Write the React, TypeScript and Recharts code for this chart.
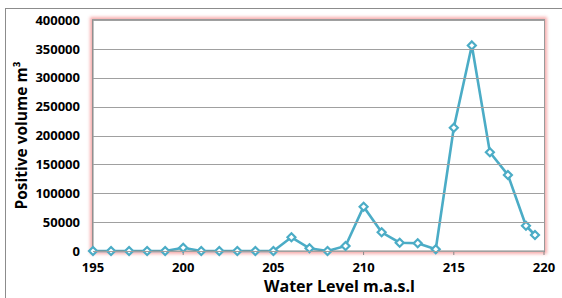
import React from "react";
import { LineChart, Line, XAxis, YAxis } from "recharts";

// water levels (m.a.s.l) and positive volume (m3)
const levels = [
  195, 196, 197, 198, 199, 200, 201, 202, 203, 204, 205, 206, 207, 208, 209,
  210, 211, 212, 213, 214, 215, 216, 217, 218, 219, 219.5,
];
const volumes = [
  0, 0, 0, 0, 0, 5700, 0, 0, 0, 0, 0, 23700, 4700, 0, 8700, 76700, 32400,
  14400, 13300, 3000, 213500, 356000, 171000, 131600, 43800, 27700,
];
const xTicks = [195, 200, 205, 210, 215, 220];
const yTicks = [0, 50000, 100000, 150000, 200000, 250000, 300000, 350000, 400000];

const data = levels.map((level, i) => ({ level, volume: volumes[i] }));

const SERIES = "#4BACC6";
const FONT = "'Open Sans', 'Liberation Sans', sans-serif";

const W = 562;
const H = 298;
const M = { top: 20, right: 18, bottom: 0, left: 0 };
const Y_AXIS_W = 93;
const X_AXIS_H = 47;
const PLOT_W = W - M.left - M.right - Y_AXIS_W;
const PLOT_H = H - M.top - M.bottom - X_AXIS_H;
const Y_GAP = 13;

const Diamond = (props: any) => {
  const { cx, cy } = props;
  if (cx == null || cy == null) return null;
  const r = 4;
  return (
    <path
      d={`M${cx} ${cy - r} L${cx + r} ${cy} L${cx} ${cy + r} L${cx - r} ${cy} Z`}
      fill="#fff"
      stroke={SERIES}
      strokeWidth={2.2}
    />
  );
};

// y tick label plus its horizontal gridline across the plot
const YTick = (props: any) => {
  const { x, y, payload } = props;
  const gy = Math.round(y) - 0.5;
  return (
    <g>
      <rect
        x={x + Y_GAP}
        y={gy}
        width={PLOT_W}
        height={1}
        fill="#A0A0A0"
        stroke="none"
        shapeRendering="crispEdges"
      />
      <text
        x={x}
        y={y}
        dy="0.36em"
        textAnchor="end"
        fontSize={13}
        fontWeight={700}
        fill="#000"
        fontFamily={FONT}
      >
        {payload.value}
      </text>
    </g>
  );
};

export default function App() {
  return (
    <div
      style={{
        position: "absolute",
        left: 0,
        top: 0,
        width: W,
        height: H,
        overflow: "hidden",
        background: "#fff",
      }}
    >
      {/* outer chart border */}
      <div
        style={{
          position: "absolute",
          left: 5,
          top: 8,
          width: 700,
          height: 400,
          border: "1px solid #8c8c8c",
        }}
      />
      {/* pink glow round the plot area */}
      <div
        style={{
          position: "absolute",
          left: M.left + Y_AXIS_W,
          top: M.top,
          width: PLOT_W,
          height: PLOT_H,
          boxShadow: "0 0 3px 3px rgba(246,160,160,0.85)",
          outline: "1px solid #9a9a9a",
          background: "#fff",
        }}
      />
      <div style={{ position: "absolute", left: 0, top: 0 }}>
        <LineChart width={W} height={H} data={data} margin={M}>
          <XAxis
            dataKey="level"
            type="number"
            domain={[195, 220]}
            ticks={xTicks}
            height={X_AXIS_H}
            axisLine={{ stroke: "#868686" }}
            tickLine={{ stroke: "#868686" }}
            tickSize={4}
            tickMargin={8}
            tick={{ fontSize: 13, fontWeight: 700, fill: "#000", fontFamily: FONT }}
            label={{
              value: "Water Level m.a.s.l",
              position: "insideBottom",
              offset: 6,
              dx: 21,
              style: { fontSize: 16, fontWeight: 700, fill: "#000", fontFamily: FONT },
            }}
          />
          <YAxis
            type="number"
            domain={[0, 400000]}
            ticks={yTicks}
            width={Y_AXIS_W}
            axisLine={{ stroke: "#868686" }}
            tickLine={false}
            tickSize={0}
            tickMargin={Y_GAP}
            tick={<YTick />}
            label={{
              value: "Positive volume m³",
              angle: -90,
              position: "insideLeft",
              offset: 21,
              style: {
                fontSize: 15.5,
                fontWeight: 700,
                fill: "#000",
                fontFamily: FONT,
                textAnchor: "middle",
              },
            }}
          />
          <Line
            dataKey="volume"
            stroke={SERIES}
            strokeWidth={2.6}
            dot={<Diamond />}
            activeDot={false}
            isAnimationActive={false}
          />
        </LineChart>
      </div>
    </div>
  );
}
